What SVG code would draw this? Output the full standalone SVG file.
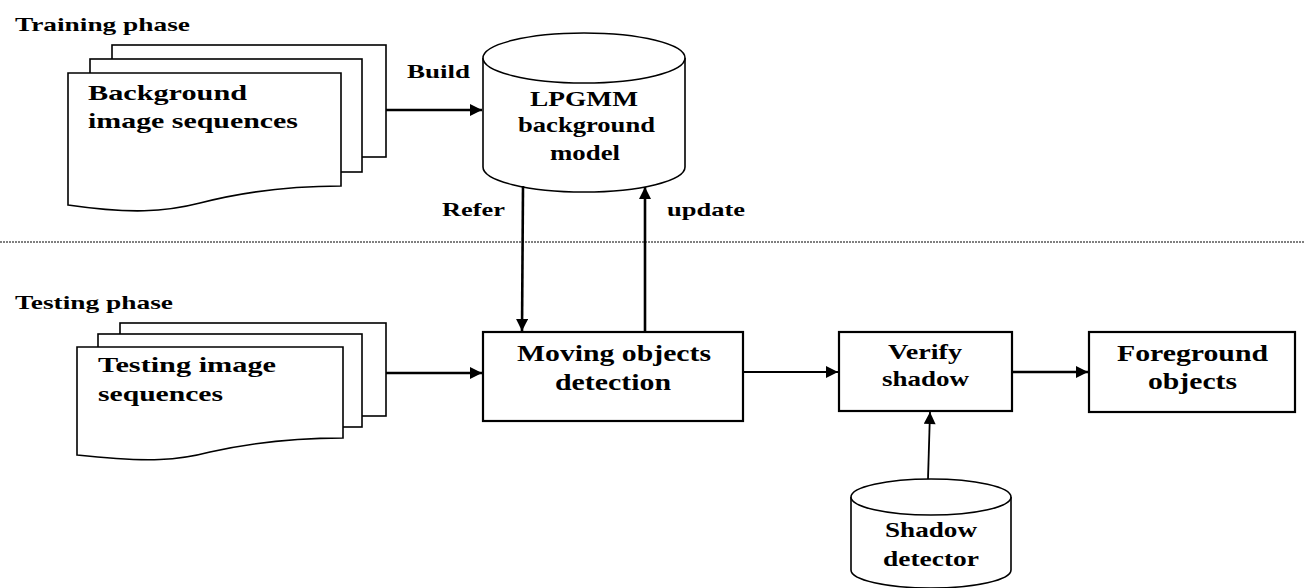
<svg xmlns="http://www.w3.org/2000/svg" width="1304" height="588" viewBox="0 0 1304 588">
<defs>
<marker id="ahs" viewBox="0 0 10 10" refX="10" refY="5" markerWidth="14" markerHeight="12" markerUnits="userSpaceOnUse" orient="auto">
<path d="M0,0 L10,5 L0,10 z" fill="#000"/>
</marker>
</defs>
<style>
text{font-family:"Liberation Serif","Times New Roman",serif;font-weight:bold;fill:#000}
.lbl{font-size:19px}
.big{font-size:22px}
.xl{font-size:24px}
.mid{font-size:21px}
.shape{fill:#fff;stroke:#000;stroke-width:1.6}
.box{fill:#fff;stroke:#000;stroke-width:2.2}
.conn{fill:none;stroke:#000;stroke-width:2.6}
.thin{fill:none;stroke:#000;stroke-width:1.8}
</style>
<rect width="1304" height="588" fill="#fff"/>

<g id="phase-labels">
<text class="lbl" x="15" y="31" textLength="175" lengthAdjust="spacingAndGlyphs">Training phase</text>
<text class="lbl" x="15" y="309" textLength="158" lengthAdjust="spacingAndGlyphs">Testing phase</text>
<line x1="0" y1="242" x2="1304" y2="242" stroke="#000" stroke-width="1" stroke-dasharray="2,1"/>
</g>

<g id="bg-sequences">
<rect class="shape" x="112" y="45" width="274" height="112"/>
<rect class="shape" x="90" y="59" width="272" height="113"/>
<path class="shape" d="M68,73 H341 V186 C300,186 250,190 200,203 C165,212 130,214 68,205 Z"/>
<text class="big" x="88" y="100" textLength="159" lengthAdjust="spacingAndGlyphs">Background</text>
<text class="big" x="88" y="128" textLength="210" lengthAdjust="spacingAndGlyphs">image sequences</text>
</g>

<g id="lpgmm">
<path class="shape" d="M483,58 V167 A101,25 0 0 0 685,167 V58"/>
<ellipse class="shape" cx="584" cy="58" rx="101" ry="25"/>
<text class="mid" x="530" y="106" textLength="108" lengthAdjust="spacingAndGlyphs">LPGMM</text>
<text class="mid" x="518" y="132" textLength="137" lengthAdjust="spacingAndGlyphs">background</text>
<text class="mid" x="550" y="160" textLength="70" lengthAdjust="spacingAndGlyphs">model</text>
</g>

<g id="test-sequences">
<rect class="shape" x="120" y="323" width="266" height="93"/>
<rect class="shape" x="98" y="334" width="264" height="93"/>
<path class="shape" d="M77,347 H343 V438 C300,438 250,443 210,452 C180,460 150,463 77,455 Z"/>
<text class="big" x="98" y="372" textLength="178" lengthAdjust="spacingAndGlyphs">Testing image</text>
<text class="big" x="98" y="401" textLength="125" lengthAdjust="spacingAndGlyphs">sequences</text>
</g>

<g id="moving">
<rect class="box" x="483" y="332" width="260" height="89"/>
<text class="xl" x="517" y="361" textLength="194" lengthAdjust="spacingAndGlyphs">Moving objects</text>
<text class="xl" x="555" y="390" textLength="116" lengthAdjust="spacingAndGlyphs">detection</text>
</g>

<g id="verify">
<rect class="box" x="839" y="332" width="173" height="79"/>
<text class="mid" x="888" y="359" textLength="74" lengthAdjust="spacingAndGlyphs">Verify</text>
<text class="mid" x="882" y="386" textLength="87" lengthAdjust="spacingAndGlyphs">shadow</text>
</g>

<g id="foreground">
<rect class="box" x="1089" y="332" width="206" height="80"/>
<text class="xl" x="1117" y="361" textLength="151" lengthAdjust="spacingAndGlyphs">Foreground</text>
<text class="xl" x="1148" y="389" textLength="89" lengthAdjust="spacingAndGlyphs">objects</text>
</g>

<g id="shadow-detector">
<path class="shape" d="M851,497 V570 A80,18 0 0 0 1011,570 V497"/>
<ellipse class="shape" cx="931" cy="497" rx="80" ry="18"/>
<text class="mid" x="885" y="537" textLength="92" lengthAdjust="spacingAndGlyphs">Shadow</text>
<text class="mid" x="883" y="566" textLength="96" lengthAdjust="spacingAndGlyphs">detector</text>
</g>

<g id="connectors">
<line class="conn" x1="386" y1="110" x2="482" y2="110" marker-end="url(#ahs)"/>
<text class="lbl" x="407" y="78" textLength="63" lengthAdjust="spacingAndGlyphs">Build</text>
<line class="conn" x1="523" y1="186" x2="522" y2="331" marker-end="url(#ahs)"/>
<text class="lbl" x="442" y="216" textLength="63" lengthAdjust="spacingAndGlyphs">Refer</text>
<line class="conn" x1="645" y1="332" x2="645" y2="187" marker-end="url(#ahs)"/>
<text class="lbl" x="667" y="216" textLength="78" lengthAdjust="spacingAndGlyphs">update</text>
<line class="conn" x1="386" y1="373" x2="482" y2="373" marker-end="url(#ahs)"/>
<line class="thin" x1="743" y1="372" x2="838" y2="372" marker-end="url(#ahs)"/>
<line class="conn" x1="1012" y1="372" x2="1088" y2="372" marker-end="url(#ahs)"/>
<line class="thin" x1="928" y1="479" x2="930" y2="412" marker-end="url(#ahs)"/>
</g>
</svg>
